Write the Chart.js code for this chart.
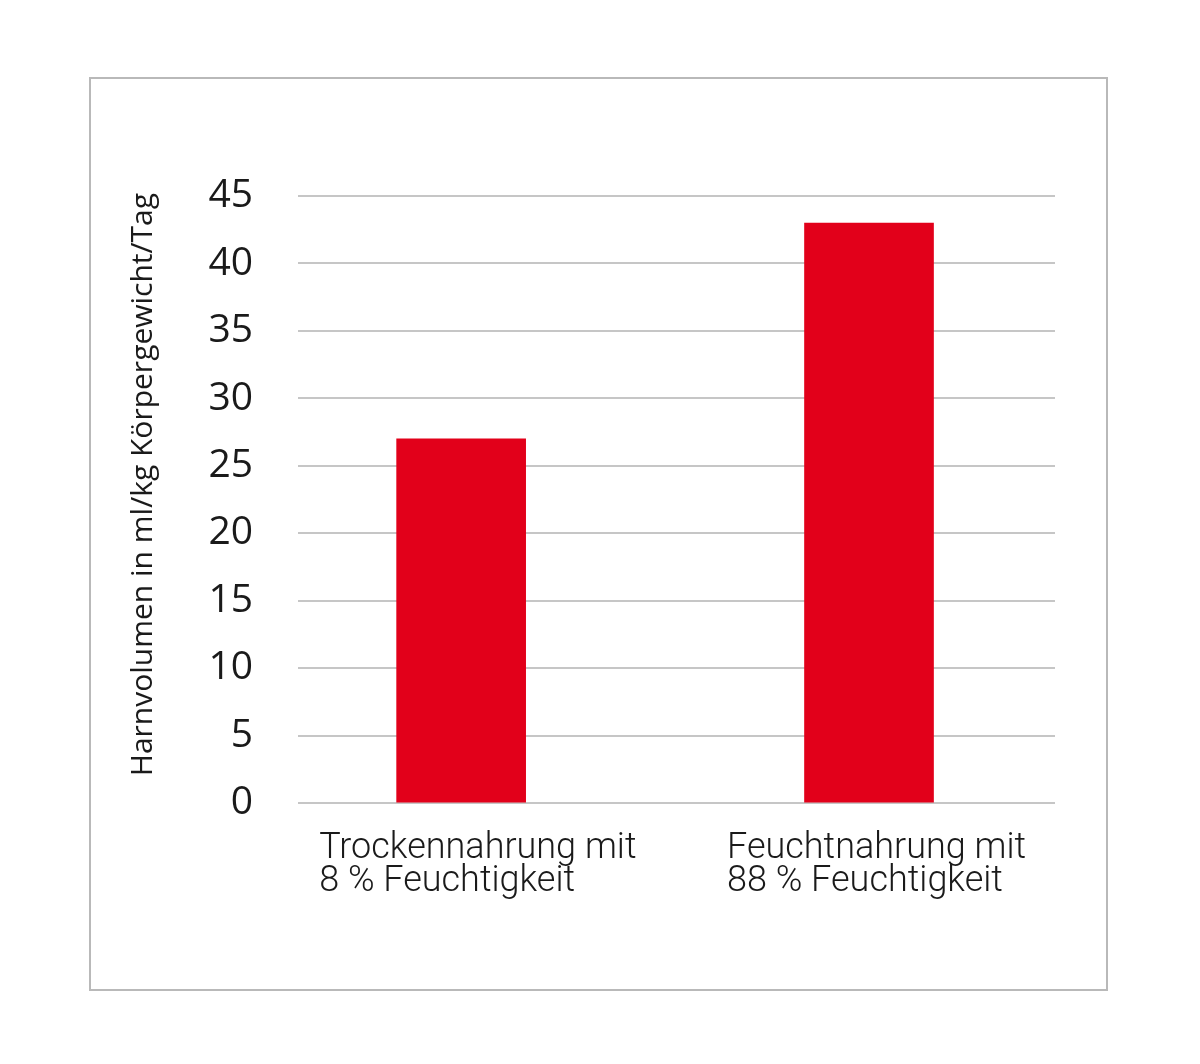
<!DOCTYPE html>
<html>
<head>
<meta charset="utf-8">
<script src="https://cdn.jsdelivr.net/npm/chart.js@4"></script>
<style>
  html, body { margin: 0; padding: 0; background: #fff; }
  #rahmen { position: absolute; left: 89px; top: 77px; width: 1015px; height: 910px; border: 2px solid #b9b9b9; }
  #grafik { position: absolute; left: 0; top: 0; }
</style>
</head>
<body>
<div id="rahmen"></div>
<canvas id="grafik" width="1200" height="1064"></canvas>
<script>
// Daten
const kategorien = [
  ['Trockennahrung mit', '8 % Feuchtigkeit'],
  ['Feuchtnahrung mit', '88 % Feuchtigkeit']
];
const harnvolumen = [27, 43];
const achsenTitel = 'Harnvolumen in ml/kg Körpergewicht/Tag';

const punkte = harnvolumen.map((v, i) => ({ x: i + 1, y: v }));

new Chart(document.getElementById('grafik'), {
  type: 'bar',
  data: {
    datasets: [{
      data: punkte,
      backgroundColor: '#e2001a',
      borderWidth: 0,
      barThickness: 129
    }]
  },
  options: {
    responsive: false,
    animation: false,
    layout: {
      padding: { left: 0, right: 145, top: 196, bottom: 144 }
    },
    plugins: {
      legend: { display: false },
      tooltip: { enabled: false }
    },
    scales: {
      x: {
        type: 'linear',
        min: 0.6,
        max: 2.456,
        offset: false,
        grid: { display: false },
        border: { display: false },
        afterBuildTicks: (scale) => {
          scale.ticks = kategorien.map((k, i) => ({ value: i + 1 }));
        },
        afterFit: (scale) => {
          // Beschriftungen sind nach links verschoben, kein Überhang nötig
          scale.paddingLeft = 0;
          scale.paddingRight = 0;
        },
        ticks: {
          includeBounds: false,
          autoSkip: false,
          maxRotation: 0,
          align: 'start',
          labelOffset: -142,
          padding: 22,
          color: '#1a1a1a',
          font: { family: 'Roboto', size: 36, weight: 300, lineHeight: 0.9 },
          callback: (value) => kategorien[value - 1] || ''
        }
      },
      y: {
        min: 0,
        max: 45,
        grid: { color: '#c6c6c6', lineWidth: 2, drawTicks: false },
        border: { display: false },
        afterFit: (scale) => { scale.width = 298; },
        ticks: {
          stepSize: 5,
          padding: 45,
          color: '#1a1a1a',
          font: { family: 'Open Sans', size: 39 }
        },
        title: {
          display: true,
          text: '\u2003' + achsenTitel,
          color: '#1a1a1a',
          font: { family: 'Open Sans', size: 30 },
          padding: { top: 125, bottom: 0 }
        }
      }
    }
  }
});
</script>
</body>
</html>
